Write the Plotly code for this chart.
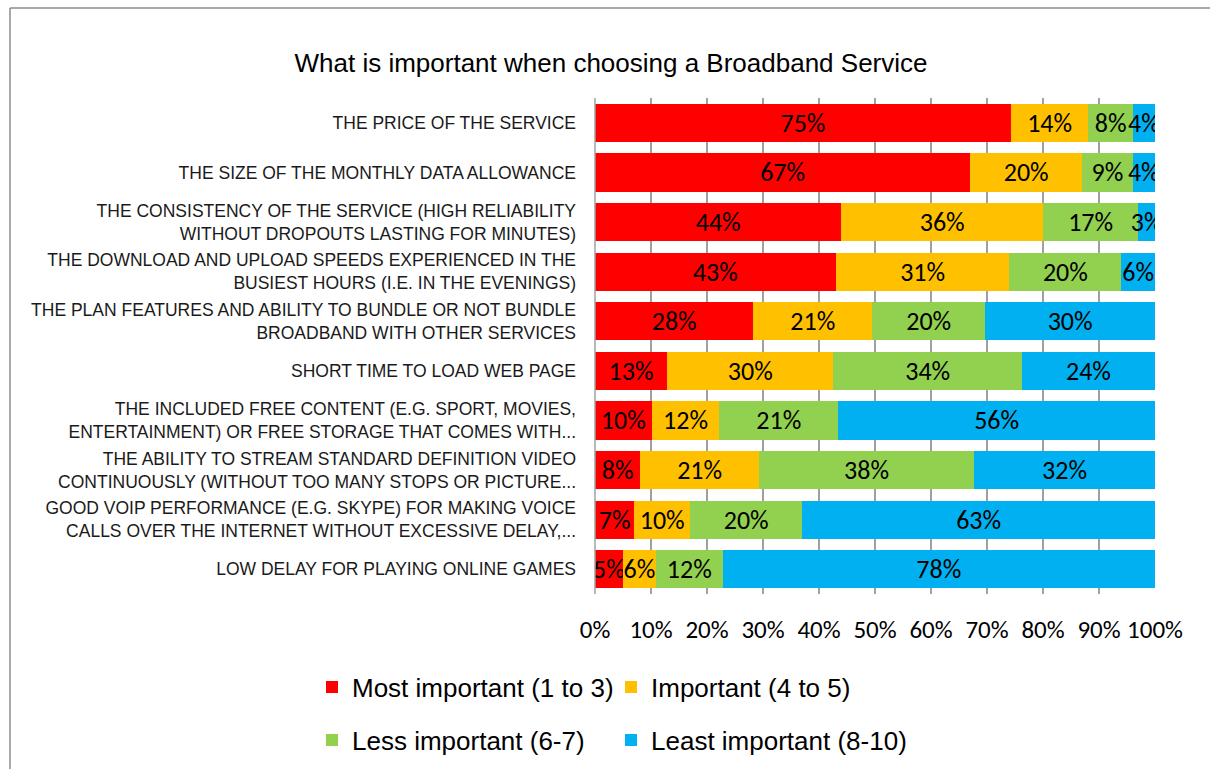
import plotly.graph_objects as go

categories = [
    "THE PRICE OF THE SERVICE",
    "THE SIZE OF THE MONTHLY DATA ALLOWANCE",
    "THE CONSISTENCY OF THE SERVICE (HIGH RELIABILITY<br>WITHOUT DROPOUTS LASTING FOR MINUTES)",
    "THE DOWNLOAD AND UPLOAD SPEEDS EXPERIENCED IN THE<br>BUSIEST HOURS (I.E. IN THE EVENINGS)",
    "THE PLAN FEATURES AND ABILITY TO BUNDLE OR NOT BUNDLE<br>BROADBAND WITH OTHER SERVICES",
    "SHORT TIME TO LOAD WEB PAGE",
    "THE INCLUDED FREE CONTENT (E.G. SPORT, MOVIES,<br>ENTERTAINMENT) OR FREE STORAGE THAT COMES WITH...",
    "THE ABILITY TO STREAM STANDARD DEFINITION VIDEO<br>CONTINUOUSLY (WITHOUT TOO MANY STOPS OR PICTURE...",
    "GOOD VOIP PERFORMANCE (E.G. SKYPE) FOR MAKING VOICE<br>CALLS OVER THE INTERNET WITHOUT EXCESSIVE DELAY,...",
    "LOW DELAY FOR PLAYING ONLINE GAMES",
]

most_important = [75, 67, 44, 43, 28, 13, 10, 8, 7, 5]
important = [14, 20, 36, 31, 21, 30, 12, 21, 10, 6]
less_important = [8, 9, 17, 20, 20, 34, 21, 38, 20, 12]
least_important = [4, 4, 3, 6, 30, 24, 56, 32, 63, 78]

series_names = ["Most important (1 to 3)", "Important (4 to 5)",
                "Less important (6-7)", "Least important (8-10)"]
series_values = [most_important, important, less_important, least_important]
colors = ["#FF0000", "#FFC000", "#92D050", "#00B0F0"]
legends = ["legend", "legend", "legend2", "legend2"]

tick_vals = [0, 10, 20, 30, 40, 50, 60, 70, 80, 90, 100]
tick_text = ["0%", "10%", "20%", "30%", "40%", "50%", "60%", "70%", "80%", "90%", "100%"]

ARIAL = "Liberation Sans, Arial, sans-serif"
CAL = "Carlito, Calibri, Lato, sans-serif"

fig = go.Figure()
for name, vals, col, lg in zip(series_names, series_values, colors, legends):
    fig.add_trace(go.Bar(
        y=categories, x=vals, name=name, orientation="h",
        marker=dict(color=col, line=dict(width=0)),
        text=[f"{v}%" for v in vals],
        textposition="inside", insidetextanchor="middle",
        constraintext="none", textangle=0,
        textfont=dict(family=CAL, size=26, color="black"),
        legend=lg, hoverinfo="skip",
    ))

fig.update_layout(
    width=1210, height=769,
    barmode="stack", barnorm="percent", bargap=0.23,
    paper_bgcolor="white", plot_bgcolor="white",
    margin=dict(l=595, r=55, t=98, b=175, autoexpand=False),
    title=dict(text="What is important when choosing a Broadband Service",
               x=611/1210, xanchor="center", y=1-63/769, yanchor="middle",
               font=dict(family=ARIAL, size=26, color="black")),
    xaxis=dict(range=[0, 100], tickvals=tick_vals, ticktext=tick_text,
               showgrid=True, gridcolor="#A0A0A0", gridwidth=1.5,
               zeroline=False, showline=False, ticks="",
               ticklabelstandoff=18,
               tickfont=dict(family=CAL, size=25, color="black")),
    yaxis=dict(categoryorder="array", categoryarray=categories,
               autorange="reversed", showgrid=False, zeroline=False,
               showline=False, ticks="", ticklabelstandoff=18,
               tickfont=dict(family=ARIAL, size=17.5, color="#1a1a1a")),
    legend=dict(orientation="h", x=(312-595)/560, xanchor="left",
                y=(594-687)/496, yanchor="middle", entrywidth=254,
                traceorder="normal",
                font=dict(family=ARIAL, size=26, color="black")),
    legend2=dict(orientation="h", x=(312-595)/560, xanchor="left",
                 y=(594-740)/496, yanchor="middle", entrywidth=254,
                 traceorder="normal",
                 font=dict(family=ARIAL, size=26, color="black")),
    shapes=[
        dict(type="line", xref="paper", yref="paper",
             x0=(10-595)/560, x1=(1215-595)/560, y0=(594-8)/496, y1=(594-8)/496,
             line=dict(color="#8C8C8C", width=1.5)),
        dict(type="line", xref="paper", yref="paper",
             x0=(10-595)/560, x1=(10-595)/560, y0=(594-8)/496, y1=(594-775)/496,
             line=dict(color="#8C8C8C", width=1.5)),
        dict(type="line", xref="paper", yref="paper",
             x0=0, x1=0, y0=0, y1=1,
             line=dict(color="#A0A0A0", width=1.5)),
    ],
)

fig.write_html("out.html")
